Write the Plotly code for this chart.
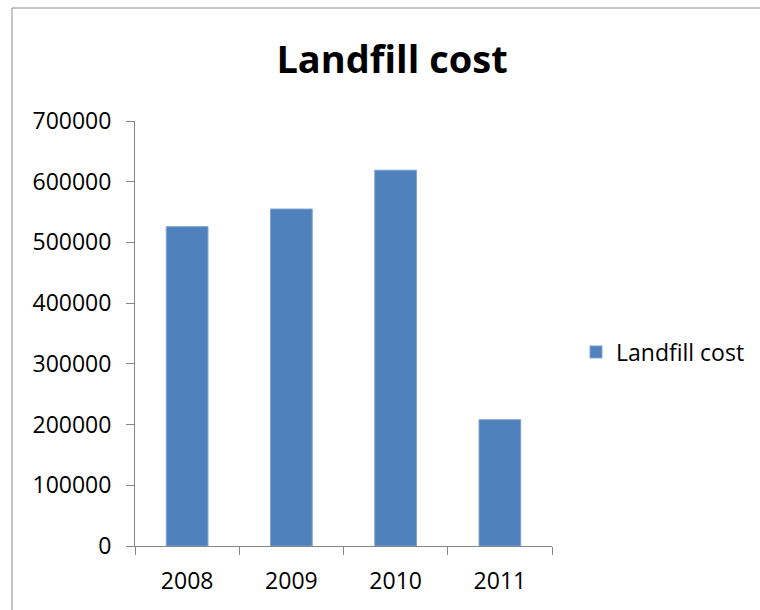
import plotly.graph_objects as go

years = ["2008", "2009", "2010", "2011"]
landfill_cost = [526000, 555000, 619000, 208000]
y_ticks = [0, 100000, 200000, 300000, 400000, 500000, 600000, 700000]

W, H = 760, 610
L, R, T, B = 135, 208, 121, 64
pw, ph = W - L - R, H - T - B

def px_x(x):
    return (x - L) / pw

def px_y(y):
    return (H - B - y) / ph

FONT = "Open Sans"

fig = go.Figure()
fig.add_trace(go.Bar(
    x=years, y=landfill_cost, name="Landfill cost",
    marker=dict(color="#4F81BD", line=dict(color="#7FA3D0", width=1)),
    width=0.4,
))

fig.update_layout(
    width=W, height=H,
    margin=dict(l=L, r=R, t=T, b=B, autoexpand=False),
    paper_bgcolor="white", plot_bgcolor="white",
    font=dict(family=FONT, size=23, color="black"),
    title=dict(text="<b>Landfill cost</b>", font=dict(family=FONT, size=38, color="black"),
               x=px_x(392), xref="paper", xanchor="center",
               y=1 - 60 / H, yref="container", yanchor="middle"),
    showlegend=True,
    legend=dict(x=px_x(576), y=px_y(352), xanchor="left", yanchor="middle",
                font=dict(family=FONT, size=23, color="black"),
                bgcolor="rgba(0,0,0,0)"),
    bargap=0.6,
    xaxis=dict(
        type="category", tickson="boundaries", ticks="outside", ticklen=8,
        tickcolor="#868686", showline=True, linecolor="#868686", linewidth=1,
        showgrid=False, zeroline=False, ticklabelstandoff=14,
    ),
    yaxis=dict(
        range=[0, 700000], tickvals=y_ticks, ticktext=[str(v) for v in y_ticks],
        ticks="outside", ticklen=8, tickcolor="#868686",
        showline=True, linecolor="#868686", linewidth=1,
        showgrid=False, zeroline=False, ticklabelstandoff=10,
    ),
    shapes=[dict(type="rect", xref="paper", yref="paper",
                 x0=px_x(12), x1=px_x(W + 20), y0=px_y(H + 20), y1=px_y(8),
                 line=dict(color="#8C8C8C", width=1), fillcolor="rgba(0,0,0,0)",
                 layer="below")],
)

fig.write_html("out.html")
